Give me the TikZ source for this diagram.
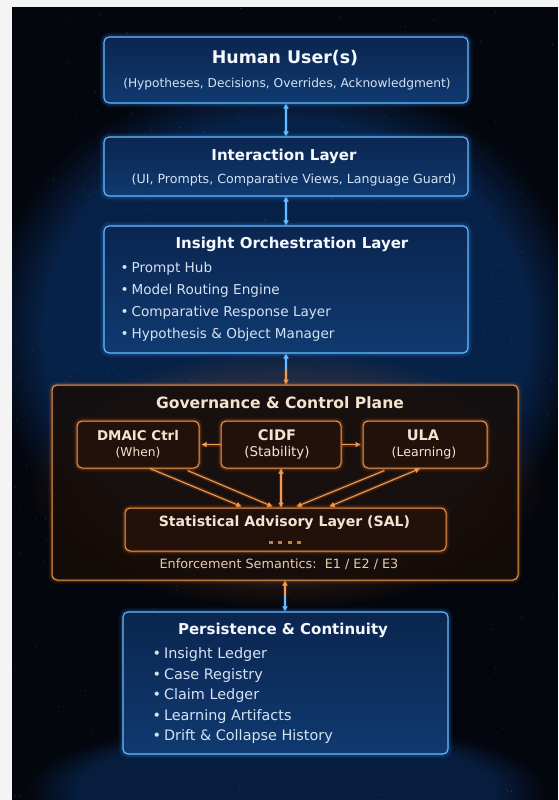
\documentclass[tikz,border=0pt]{standalone}
\usepackage{fontspec}
\setmainfont{DejaVu Sans}
\usetikzlibrary{arrows.meta,calc,fadings}

\definecolor{pagewhite}{HTML}{F4F4F4}
\definecolor{night}{HTML}{04060D}
\definecolor{haze}{HTML}{0B3A7A}
\definecolor{bedge}{HTML}{66BEFF}
\definecolor{bglow}{HTML}{2E8CFF}
\definecolor{bfillT}{HTML}{0B2550}
\definecolor{bfillB}{HTML}{0F3A70}
\definecolor{btitle}{HTML}{F4F8FF}
\definecolor{btext}{HTML}{D6E2F2}
\definecolor{oedge}{HTML}{F39A4C}
\definecolor{oglow}{HTML}{FF7A1A}
\definecolor{ofill}{HTML}{160C07}
\definecolor{oinner}{HTML}{24120A}
\definecolor{otitle}{HTML}{F6E2CF}
\definecolor{otext}{HTML}{E9CBB0}

\newcommand{\fs}[1]{\fontsize{#1}{#1}\selectfont}

\tikzset{
  bluebox/.style={rectangle, rounded corners=5pt, inner sep=0pt,
    draw=bedge, line width=1.1pt, top color=bfillT, bottom color=bfillB,
    preaction={draw=bglow, line width=9pt, draw opacity=0.08},
    preaction={draw=bglow, line width=5pt, draw opacity=0.18}},
  orangebox/.style={rectangle, rounded corners=5pt, inner sep=0pt,
    draw=oedge, line width=1.0pt, fill=ofill, fill opacity=0.85,
    preaction={draw=oglow, line width=7pt, draw opacity=0.08},
    preaction={draw=oglow, line width=3.5pt, draw opacity=0.2}},
  innerbox/.style={orangebox, fill=oinner},
  btitlefont/.style={text=btitle, font=\fs{15}\bfseries},
  bsubfont/.style={text=btext, font=\fs{12.2}},
  bitem/.style={text=btext, anchor=base west, font=\fs{13.6}},
  otitlefont/.style={text=otitle, font=\fs{15}\bfseries},
  osubfont/.style={text=otitle, font=\fs{12.6}},
  barrow/.style={draw=bedge, line width=1.1pt, {Latex[length=5pt,width=6pt]}-{Latex[length=5pt,width=6pt]},
    preaction={draw=bglow, line width=4pt, draw opacity=0.2, arrows=-}},
  oarrow/.style={draw=oedge, line width=1.1pt, -{Latex[length=5pt,width=6pt]},
    preaction={draw=oglow, line width=4pt, draw opacity=0.2, arrows=-}},
}

\begin{document}
\begin{tikzpicture}[x=1pt, y=1pt]
  \useasboundingbox (0,0) rectangle (558,-800);
  % page and night sky
  \fill[pagewhite] (0,0) rectangle (558,-800);
  \fill[night] (12,-7) rectangle (558,-800);
  \begin{scope}
    \clip (12,-7) rectangle (558,-800);
    \fill[haze, opacity=0.55, path fading=circle with fuzzy edge 20 percent] (286,-330) ellipse (300 and 260);
    \fill[haze, opacity=0.45, path fading=circle with fuzzy edge 20 percent] (286,-790) ellipse (260 and 70);
    \fill[oglow, opacity=0.10, path fading=circle with fuzzy edge 20 percent] (286,-480) ellipse (260 and 130);
    \pgfmathsetseed{11}
    \foreach \s in {1,...,320} {
      \fill[white, opacity=0.35] ({12+546*rnd},{-7-793*rnd}) circle (0.35pt);
    }
  \end{scope}

  % --- blue layers ---
  \node[bluebox, minimum width=364pt, minimum height=66pt] (human) at (286,-70) {};
  \node[btitlefont, font=\fs{17.4}\bfseries] (humant) at (285,-58) {Human User(s)};
  \node[bsubfont] (humans) at (287,-84) {(Hypotheses, Decisions, Overrides, Acknowledgment)};

  \node[bluebox, minimum width=364pt, minimum height=59pt] (inter) at (286,-166.5) {};
  \node[btitlefont] (intert) at (284,-156) {Interaction Layer};
  \node[bsubfont, font=\fs{12.6}] (inters) at (294,-180) {(UI, Prompts, Comparative Views, Language Guard)};

  \node[bluebox, minimum width=364pt, minimum height=127pt] (insight) at (286,-289.5) {};
  \node[btitlefont] (insightt) at (292,-244) {Insight Orchestration Layer};
  \foreach \t [count=\i] in {Prompt Hub, Model Routing Engine, Comparative Response Layer, Hypothesis \& Object Manager} {
    \node[bitem] (ib\i) at (117,{-272.5-22*(\i-1)}) {\textbullet\hspace{3pt}\t};
  }

  % --- governance plane ---
  \node[orangebox, minimum width=466pt, minimum height=195pt] (gov) at (285,-482.5) {};
  \node[otitlefont, font=\fs{15.6}\bfseries] (govt) at (280,-403) {Governance \& Control Plane};

  \node[innerbox, minimum width=122pt, minimum height=47pt] (dmaic) at (138,-444.5) {};
  \node[otitlefont, font=\fs{13.4}\bfseries] (dmaict) at (138,-435) {DMAIC Ctrl};
  \node[osubfont, font=\fs{12.2}] (dmaics) at (138,-453) {(When)};

  \node[innerbox, minimum width=120pt, minimum height=47pt] (cidf) at (281,-444.5) {};
  \node[otitlefont, font=\fs{14.6}\bfseries] (cidft) at (277,-435) {CIDF};
  \node[osubfont, font=\fs{13.4}] (cidfs) at (277,-453) {(Stability)};

  \node[innerbox, minimum width=124pt, minimum height=47pt] (ula) at (425,-444.5) {};
  \node[otitlefont, font=\fs{14.6}\bfseries] (ulat) at (423,-435) {ULA};
  \node[osubfont] (ulas) at (424,-453) {(Learning)};

  \node[innerbox, minimum width=321pt, minimum height=43pt] (sal) at (285.5,-529.5) {};
  \node[otitlefont, font=\fs{14.1}\bfseries] (salt) at (284.5,-523) {Statistical Advisory Layer (SAL)};
  \foreach \dx [count=\i] in {-15,-5.5,4,13.5} {
    \fill[oedge, opacity=0.8] ($(sal.center)+(\dx-2,-11)$) rectangle ++(4,-3);
  }
  \node[text=otext, font=\fs{12.8}] (enf) at (279,-564) {Enforcement Semantics:\ \ E1 / E2 / E3};

  % links inside the plane
  \draw[oarrow, shorten >=2pt] (cidf.west) -- (dmaic.east);
  \draw[oarrow, shorten >=2pt] (cidf.east) -- (ula.east -| ula.west);
  \draw[oarrow, {Latex[length=5pt,width=6pt]}-{Latex[length=5pt,width=6pt]}] (cidf.south) -- (cidf.south |- sal.north);
  \draw[oarrow] ($(dmaic.south)+(12,0)$) -- ($(sal.north)+(-44,1)$);
  \draw[oarrow] ($(dmaic.south east)+(-12,-2)$) -- ($(sal.north)+(-13,1)$);
  \draw[oarrow] ($(ula.south west)+(22,-2)$) -- ($(sal.north)+(11,1)$);
  \draw[oarrow, {Latex[length=5pt,width=6pt]}-{Latex[length=5pt,width=6pt]}] ($(ula.south)+(-5,0)$) -- ($(sal.north)+(44,1)$);

  % --- persistence ---
  \node[bluebox, minimum width=325pt, minimum height=142pt] (persist) at (285.5,-683) {};
  \node[btitlefont] (persistt) at (283,-630) {Persistence \& Continuity};
  \foreach \t [count=\i] in {Insight Ledger, Case Registry, Claim Ledger, Learning Artifacts, Drift \& Collapse History} {
    \node[bitem, font=\fs{14.4}] (pb\i) at (149,{-658.5-20.5*(\i-1)}) {\textbullet\hspace{3pt}\t};
  }

  % --- vertical links between layers ---
  \draw[barrow] (human.south) -- (inter.north);
  \draw[barrow] (inter.south) -- (insight.north);

  \coordinate (m1) at ($(insight.south)!0.5!(insight.south |- gov.north)$);
  \draw[draw=bedge, line width=1.1pt, {Latex[length=5pt,width=6pt]}-,
    preaction={draw=bglow, line width=4pt, draw opacity=0.2, arrows=-}] (insight.south) -- (m1);
  \draw[oarrow] (m1) -- (insight.south |- gov.north);

  \coordinate (m2) at ($(gov.south)!0.5!(gov.south |- persist.north)$);
  \draw[draw=oedge, line width=1.1pt, {Latex[length=5pt,width=6pt]}-,
    preaction={draw=oglow, line width=4pt, draw opacity=0.2, arrows=-}] (gov.south) -- (m2);
  \draw[draw=bedge, line width=1.1pt, -{Latex[length=5pt,width=6pt]},
    preaction={draw=bglow, line width=4pt, draw opacity=0.2, arrows=-}] (m2) -- (gov.south |- persist.north);
\end{tikzpicture}
\end{document}
